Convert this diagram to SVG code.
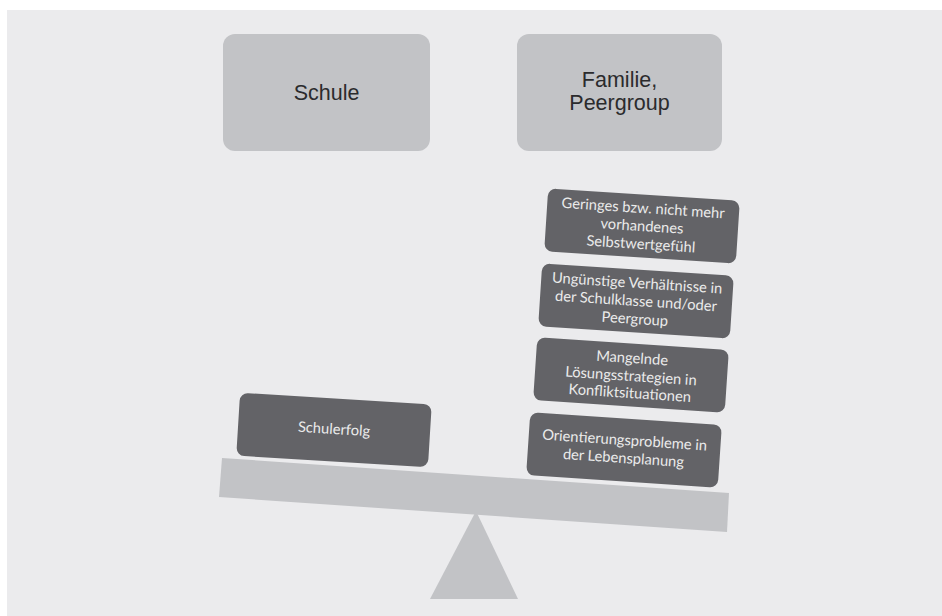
<svg xmlns="http://www.w3.org/2000/svg" width="942" height="616" viewBox="0 0 942 616">
<style>
.top{fill:#c2c3c6}
.toptxt{font-family:"Liberation Sans",Arial,sans-serif;font-size:21.5px;fill:#2b2b2d;text-anchor:middle}
.dark{fill:#636367}
.dtxt{font-family:Lato,"Open Sans",sans-serif;font-size:14.7px;fill:#ebebeb;text-anchor:middle}
.lite{fill:#c2c3c6}
</style>
<rect x="0" y="0" width="942" height="616" fill="#ffffff"/>
<rect x="7" y="10" width="935" height="606" fill="#ebebed"/>
<g id="schule">
<rect class="top" x="223" y="34" width="207" height="117" rx="12"/>
<text class="toptxt" x="326.5" y="100">Schule</text>
</g>
<g id="familie">
<rect class="top" x="517" y="34" width="205" height="117" rx="12"/>
<text class="toptxt" x="619.5" y="87">Familie,</text>
<text class="toptxt" x="619.5" y="110">Peergroup</text>
</g>
<g id="fulcrum">
<polygon class="lite" points="430,599 518,599 476,511"/>
</g>
<g id="beam">
<polygon class="lite" points="222,458 729,493 727,532 219,497"/>
</g>
<g id="schulerfolg" transform="translate(334,430) rotate(3.5)">
<rect class="dark" x="-96" y="-31.5" width="192" height="63" rx="8"/>
<text class="dtxt" x="0" y="4">Schulerfolg</text>
</g>
<g id="selbstwert" transform="translate(642,226) rotate(3.7)">
<rect class="dark" x="-96" y="-31.5" width="192" height="63" rx="8"/>
<text class="dtxt" x="0" y="-13">Geringes bzw. nicht mehr</text>
<text class="dtxt" x="0" y="5">vorhandenes</text>
<text class="dtxt" x="0" y="23">Selbstwertgefühl</text>
</g>
<g id="verhaeltnisse" transform="translate(636,301) rotate(3.7)">
<rect class="dark" x="-96" y="-31.5" width="192" height="63" rx="8"/>
<text class="dtxt" x="0" y="-13">Ungünstige Verhältnisse in</text>
<text class="dtxt" x="0" y="5">der Schulklasse und/oder</text>
<text class="dtxt" x="0" y="23">Peergroup</text>
</g>
<g id="loesung" transform="translate(631,375) rotate(3.8)">
<rect class="dark" x="-96" y="-31.5" width="192" height="63" rx="8"/>
<text class="dtxt" x="0" y="-12">Mangelnde</text>
<text class="dtxt" x="0" y="6">Lösungsstrategien in</text>
<text class="dtxt" x="0" y="23">Konfliktsituationen</text>
</g>
<g id="orientierung" transform="translate(624,450) rotate(3.8)">
<rect class="dark" x="-96" y="-31.5" width="192" height="63" rx="8"/>
<text class="dtxt" x="0" y="-5">Orientierungsprobleme in</text>
<text class="dtxt" x="0" y="13">der Lebensplanung</text>
</g>
</svg>
